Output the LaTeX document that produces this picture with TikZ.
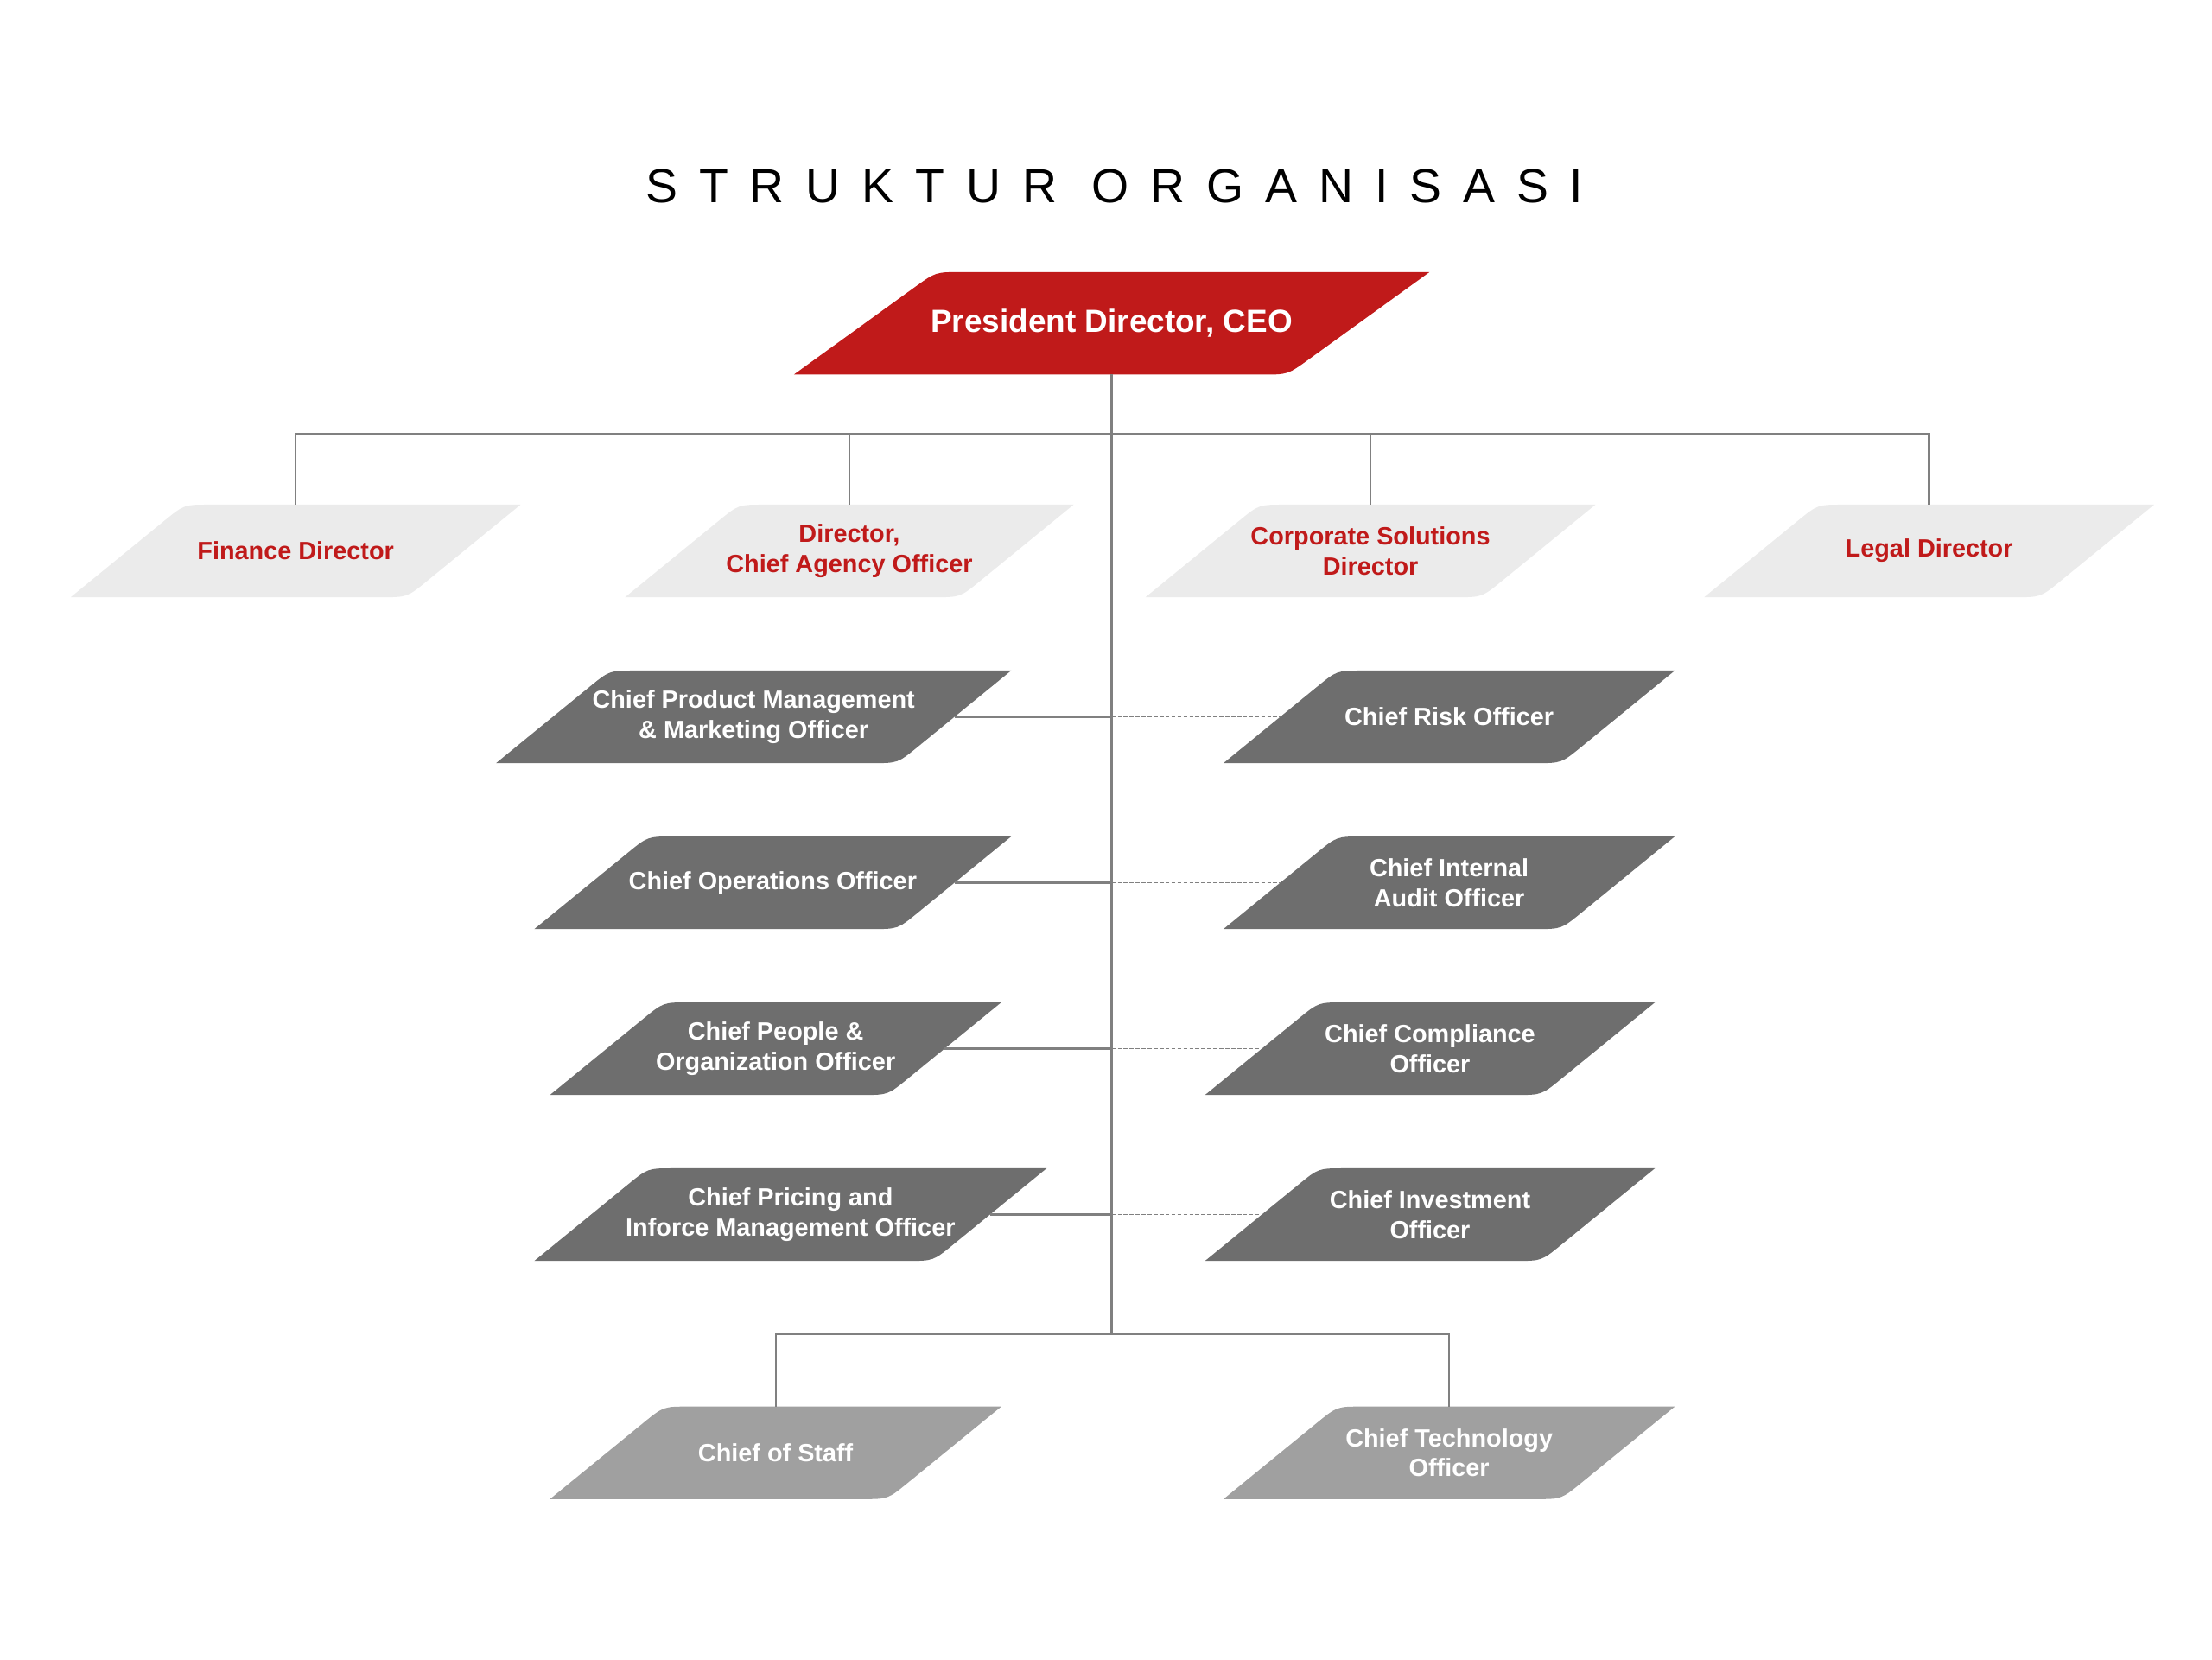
\documentclass[tikz,border=0pt]{standalone}
\usepackage{fontspec}
\setmainfont{Liberation Sans}
\newfontfamily\titlefont[LetterSpace=45]{Liberation Sans}
\usetikzlibrary{calc}
\definecolor{ceored}{HTML}{C01A1A}
\definecolor{lightbox}{HTML}{EBEBEB}
\definecolor{darkbox}{HTML}{6E6E6E}
\definecolor{midbox}{HTML}{A0A0A0}
\definecolor{linegray}{HTML}{808080}
\tikzset{
	box/.style={inner sep=0pt, align=center, font=\fontsize{25}{30}\selectfont\bfseries}, % text holder of every box
	top/.style={box, text=ceored},
	staff/.style={box, text=white},
	link/.style={draw=linegray, line width=2pt},
}
% name, left x, right x, top y, bottom y, style, fill, slant, text
\newcommand\orgbox[9]{%
	\node[#6, minimum width={(#3-#2-#8)*0.05cm}, minimum height={(#5-#4)*0.05cm}] (#1) at ({(#2+#3)/2},{(#4+#5)/2}) {#9};
	\fill[#7] ($(#1.south west)+(-#8/2,0)$) coordinate (bl)
		-- ($($(#1.north west)+(#8/2,0)$)!0.9cm!(bl)$)
		.. controls ($(#1.north west)+(#8/2,0)$) .. ($(#1.north west)+(#8/2+18,0)$)
		-- ($(#1.north east)+(#8/2,0)$)
		-- ($($(#1.south east)+(-#8/2,0)$)!0.9cm!($(#1.north east)+(#8/2,0)$)$)
		.. controls ($(#1.south east)+(-#8/2,0)$) .. ($(#1.south east)+(-#8/2-18,0)$)
		-- cycle;
	\node[#6] at (#1) {#9};
}
\begin{document}
\begin{tikzpicture}[x=0.05cm, y=-0.05cm]
\useasboundingbox (0,0) rectangle (1560,1170);
\node[font=\titlefont\fontsize{48}{54}\selectfont] (title) at (786,131) {STRUKTUR ORGANISASI};
% boxes
\orgbox{ceo}{560}{1008}{192}{264}{box, text=white, font=\fontsize{32}{38}\selectfont\bfseries}{ceored}{100}{President Director, CEO}
\orgbox{fin}{50}{367}{356}{421}{top}{lightbox}{80}{Finance Director}
\orgbox{agency}{441}{757}{356}{421}{top}{lightbox}{80}{Director,\\Chief Agency Officer}
\orgbox{corp}{808}{1125}{356}{421}{top}{lightbox}{80}{Corporate Solutions\\Director}
\orgbox{legal}{1202}{1519}{356}{421}{top}{lightbox}{80}{Legal Director}
\orgbox{cpm}{350}{713}{473}{538}{staff}{darkbox}{80}{Chief Product Management\\\& Marketing Officer}
\orgbox{coo}{377}{713}{590}{655}{staff}{darkbox}{80}{Chief Operations Officer}
\orgbox{cpo}{388}{706}{707}{772}{staff}{darkbox}{80}{Chief People \&\\Organization Officer}
\orgbox{cpim}{377}{738}{824}{889}{staff}{darkbox}{80}{Chief Pricing and\\Inforce Management Officer}
\orgbox{cro}{863}{1181}{473}{538}{staff}{darkbox}{80}{Chief Risk Officer}
\orgbox{cia}{863}{1181}{590}{655}{staff}{darkbox}{80}{Chief Internal\\Audit Officer}
\orgbox{cco}{850}{1167}{707}{772}{staff}{darkbox}{80}{Chief Compliance\\Officer}
\orgbox{cio}{850}{1167}{824}{889}{staff}{darkbox}{80}{Chief Investment\\Officer}
\orgbox{cos}{388}{706}{992}{1057}{staff}{midbox}{80}{Chief of Staff}
\orgbox{cto}{863}{1181}{992}{1057}{staff}{midbox}{80}{Chief Technology\\Officer}
% connectors
\coordinate (bus) at (784,306);
\coordinate (foot) at (784,941);
\draw[link] (ceo.south) -- (foot);
\draw[link] (fin.north) |- (bus) -| (legal.north);
\draw[link] (agency.north) -- (agency.north |- bus);
\draw[link] (corp.north) -- (corp.north |- bus);
\draw[link] (cos.north) |- (foot) -| (cto.north);
\foreach \l/\r in {cpm/cro, coo/cia, cpo/cco, cpim/cio} {
	\draw[link] (\l.east) -- (\l.east -| foot);
	\draw[link, line width=1.2pt, dashed, dash pattern=on 4pt off 2pt] (\l.east -| foot) -- (\r.west);
}
\end{tikzpicture}
\end{document}
